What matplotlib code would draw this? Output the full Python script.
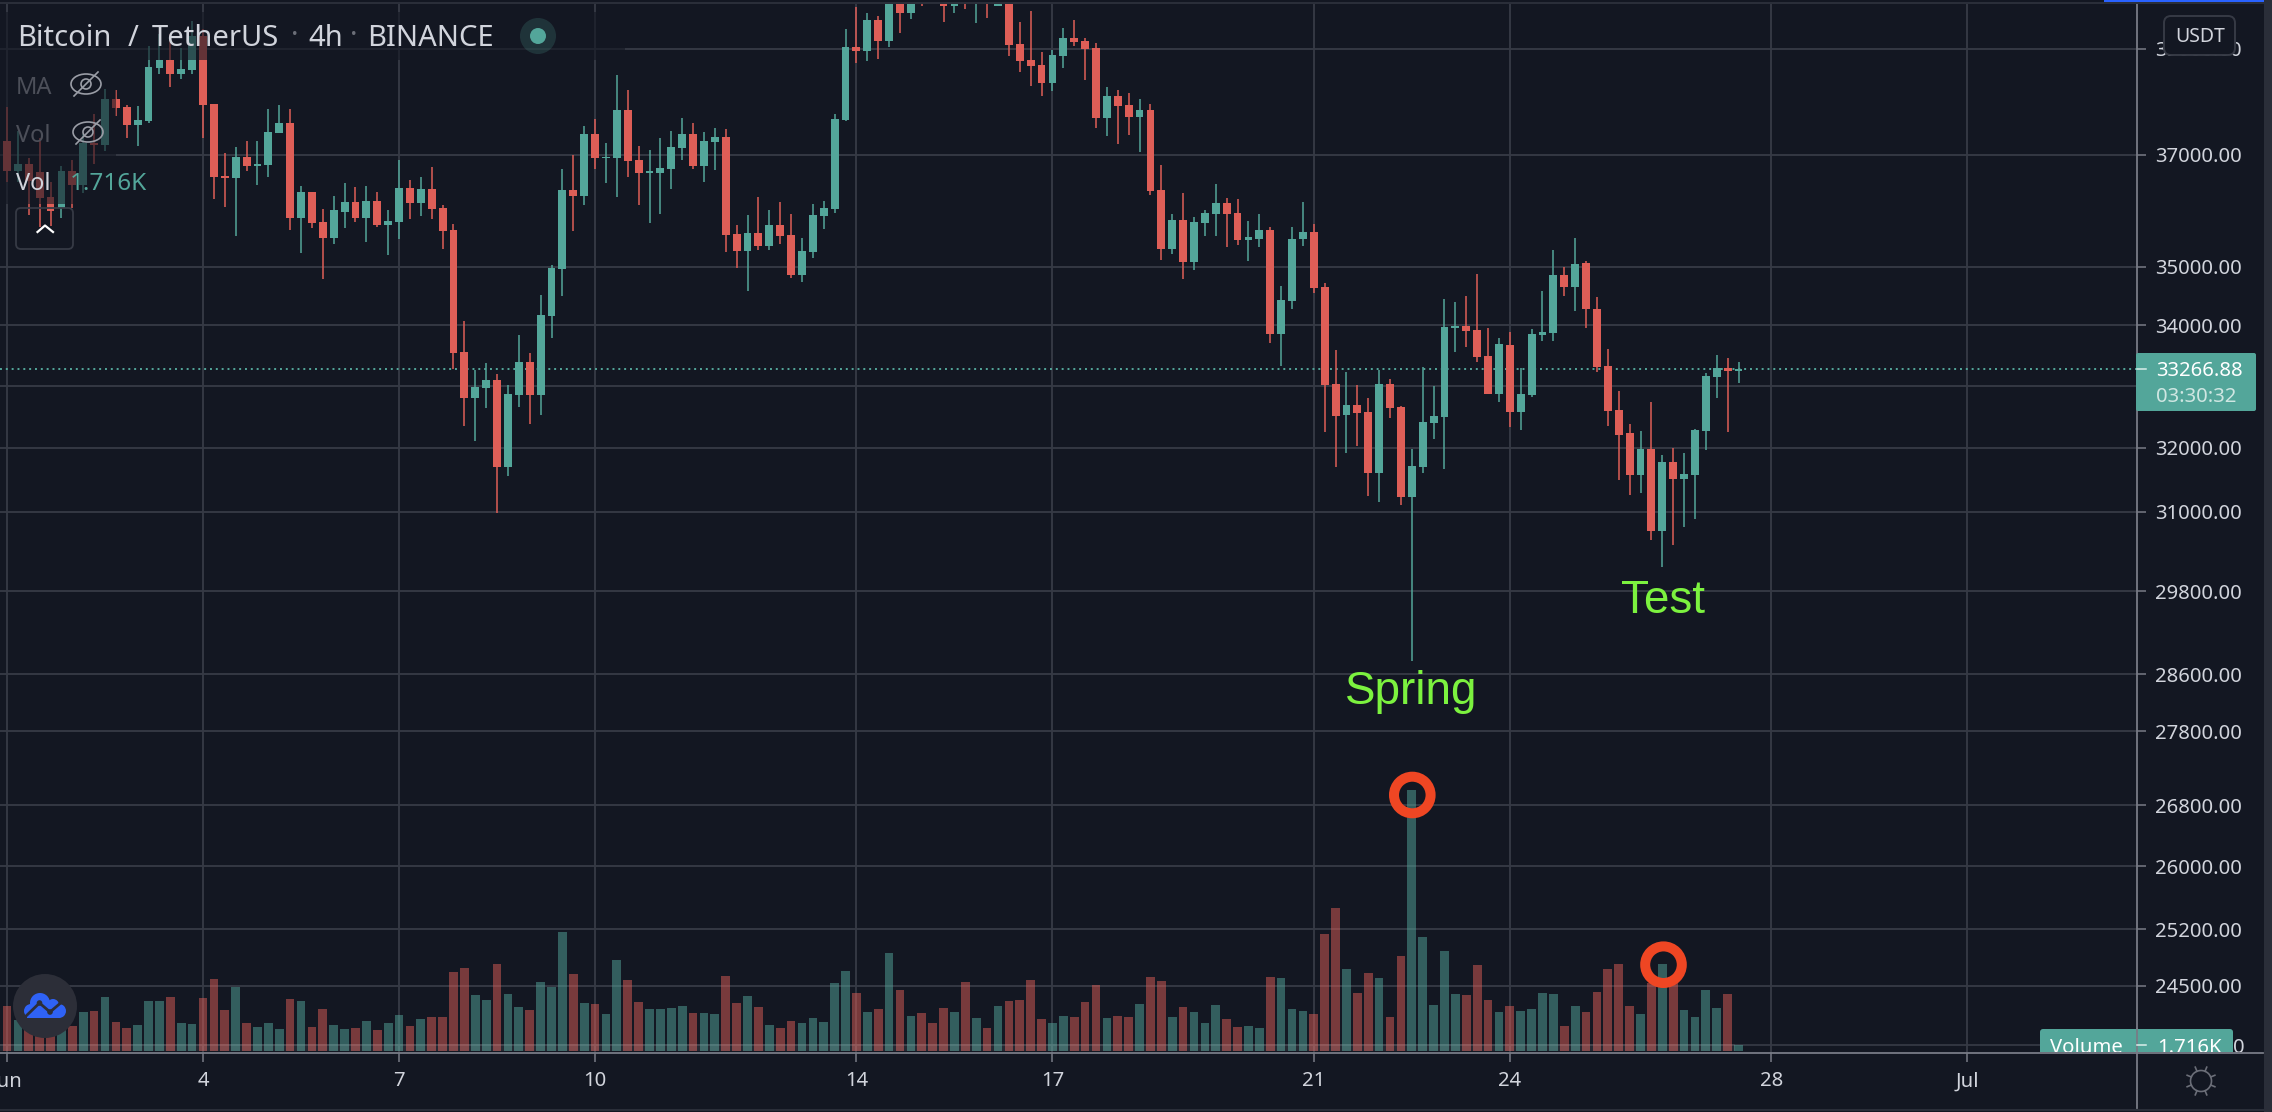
import numpy as np
import matplotlib
matplotlib.use("Agg")
import matplotlib.pyplot as plt
from matplotlib.patches import Rectangle, Circle, FancyBboxPatch, Ellipse
from matplotlib.ticker import FixedLocator, FixedFormatter, NullLocator
from matplotlib.transforms import Bbox

opens = [37256,36700,36838,36687,36238,36034,36706,36456,37212,37193,38046,37891,37562,37633,38636,38789,38510,38596,39247,37949,
36618,36580,36964,36806,36819,37409,37594,35860,36325,35789,35509,35966,36146,35860,36158,35740,35789,36400,36133,36381,
36040,35648,33555,32797,32959,33095,31695,32847,33390,32847,34157,34964,36363,36257,37389,36945,36945,37840,36907,36675,
36675,36744,37129,37389,36800,37243,37332,35582,35279,35594,35370,35740,35563,34859,35260,35899,36022,37646,39040,38960,
39564,39155,40095,39700,40250,40250,40100,39840,40250,39970,40200,39840,40200,39095,38790,38690,38345,38860,39215,39155,
39020,37684,38098,37930,37704,37840,36363,35315,35825,35086,35770,35930,36127,35948,35472,35496,35648,33855,34415,35490,
35611,34650,33027,32523,32685,32568,31597,33027,32652,31220,31695,32390,32490,33960,33988,33918,33487,32858,33670,32568,
32847,33838,33873,34859,34650,35068,34275,33321,32601,32230,31565,31977,30703,31770,31505,31565,32263,33140,33287,33248]
highs = [37898,37447,36939,37319,36500,36800,36907,37383,37768,38235,38209,37930,37910,39047,39281,39281,39014,39551,39382,37949,
37033,37141,37256,37256,37846,37923,37846,36437,36325,36016,36251,36487,36412,36431,36325,36003,36907,36543,36593,36775,
36096,35752,34070,33253,33367,33186,33010,33832,33538,34509,35043,36744,37002,37537,37665,37224,38497,38209,37167,37090,
37313,37447,37684,37594,37428,37498,37479,35740,35911,36233,36003,36146,35935,35509,36115,36164,37755,39388,39820,39700,
39645,40300,40400,40300,40400,40500,40400,40350,40450,40300,40400,40400,40380,39525,39740,38935,38980,39400,39565,39215,
39115,38267,38215,38157,38046,37949,36813,35930,36307,35875,36003,36468,36220,36201,35807,35930,35697,34669,35697,36146,
35752,34720,33584,33219,33010,32796,33253,33106,32670,31977,33304,32992,34444,34396,34497,34877,33954,33786,33890,33287,
33937,34585,35297,34997,35503,35104,34480,33601,32910,32375,32263,32730,31880,31993,31912,32296,33203,33504,33452,33384]
lows = [36500,36500,35911,35697,35727,35868,36034,36313,36844,37065,37723,37319,37173,37600,38517,38267,38424,38517,37319,36200,
36065,35545,36700,36456,36599,37409,35648,35242,35684,34794,35400,35684,35789,35436,35703,35212,35490,35843,35893,35843,
35315,33281,32346,32104,32635,30977,31554,32652,32379,32523,33792,34503,35630,36096,36744,36493,36238,36599,36096,35770,
35935,36381,36907,36744,36512,36725,35260,34985,34586,35297,35297,35400,34810,34740,35158,35666,35954,37633,38730,38770,
38810,39040,39308,39585,39840,40050,39525,39700,39770,39505,39605,39830,38860,38557,38287,38098,38195,38635,39055,38405,
37498,37351,37205,37370,37060,36270,35122,35224,34787,34947,35539,35539,35345,35381,35104,35345,33705,33320,34275,35363,
34550,32246,31695,31913,32026,31237,31147,32473,31100,28782,31597,32136,31662,33550,33636,33384,32858,32730,32330,32280,
32813,33733,33733,34497,34245,33954,33219,32346,31489,31252,31284,30567,30157,30489,30761,30887,31960,32797,32246,33039]
closes = [36700,36838,36531,36220,35990,36706,36456,37224,37193,38046,37878,37556,37652,38649,38789,38517,38616,39247,37936,36599,
36587,36964,36800,36832,37428,37594,35860,36325,35770,35509,36003,36146,35860,36158,35740,35807,36400,36133,36381,36022,
35630,33538,32797,32976,33095,31695,32864,33390,32847,34176,34984,36363,36257,37389,36945,36964,37840,36894,36675,36700,
36762,37148,37389,36800,37262,37332,35563,35279,35594,35370,35740,35545,34859,35279,35917,36040,37665,39040,38960,39564,
39155,40095,39700,40130,40025,40100,39840,40150,39970,40100,40000,40200,39075,38770,38670,38345,38880,39215,39135,39000,
37684,38098,37910,37704,37840,36344,35315,35825,35086,35789,35948,36127,35930,35472,35521,35648,33855,34427,35496,35611,
34630,33010,32506,32685,32551,31597,33027,32635,31220,31705,32406,32506,33971,33988,33900,33470,32858,33688,32568,32858,
33855,33890,34859,34650,35050,34275,33304,32585,32197,31565,31977,30703,31770,31505,31581,32280,33157,33287,33242,33266.88]
volumes = [12.9,8.9,6.0,6.5,5.5,7.0,7.1,11.1,11.4,15.4,8.3,6.6,7.4,14.3,14.3,15.4,8.0,7.7,15.1,20.6,
11.7,18.3,8.0,6.9,8.0,6.3,14.9,14.3,6.9,12.0,7.4,6.3,6.6,8.6,6.0,8.0,10.3,7.1,9.1,9.7,
9.7,22.6,23.7,16.0,14.6,24.9,16.3,12.6,11.7,19.7,18.3,34.0,22.0,13.7,13.4,10.6,26.0,20.3,14.0,12.0,
12.0,12.3,12.9,10.9,10.9,10.6,21.4,13.7,15.7,12.6,7.4,6.6,8.6,8.0,9.4,8.3,19.4,22.9,16.6,11.1,
12.0,28.0,17.4,10.0,10.9,8.0,12.3,11.1,19.7,9.4,6.6,12.9,14.3,14.6,20.3,9.1,8.0,10.0,9.7,14.0,
18.9,9.4,10.0,9.7,13.4,21.1,20.0,9.7,12.6,11.1,8.0,13.1,9.1,6.9,7.1,6.6,21.1,20.9,12.0,11.4,
10.6,33.4,40.9,23.4,16.6,22.3,20.9,9.7,27.1,74.6,32.6,13.1,28.6,16.3,16.0,24.6,14.6,11.1,12.9,11.4,
12.0,16.6,16.3,7.1,12.9,11.1,16.9,23.4,24.9,12.9,10.6,19.3,24.9,19.3,11.7,9.7,17.4,12.3,16.3,1.716]

price_ticks = [39000,37000,35000,34000,33000,32000,31000,29800,28600,27800,26800,26000,25200,24500]
price_labels = ["39000.00","37000.00","35000.00","34000.00","","32000.00","31000.00","29800.00","28600.00",
                "27800.00","26800.00","26000.00","25200.00","24500.00"]
time_ticks = [0,18,36,54,78,96,120,138,162,180]
time_labels = ["Jun","4","7","10","14","17","21","24","28","Jul"]
last_price = 33266.88
last_volume = 1.716

BG="#131722"; GRID="#363a45"; AXC="#787b86"; UP="#53a69a"; DOWN="#de5e57"; TXT="#d1d4dc"
W,H=2272,1112
UI="Noto Sans"
LS=14.6

opens,highs,lows,closes,volumes=map(np.array,(opens,highs,lows,closes,volumes))
xs=np.arange(len(opens))
colors=np.where(closes>=opens,UP,DOWN)

fig=plt.figure(figsize=(W/100,H/100),dpi=100,facecolor=BG)
AX_R,AX_T,AX_B=2136.7,4.0,1052.7
rect=[0,1-AX_B/H,AX_R/W,(AX_B-AX_T)/H]
BAR=10.89; X0=7.0
xlim=((0-X0)/BAR,(AX_R-X0)/BAR)

ax=fig.add_axes(rect,facecolor=BG)
ax.set_yscale("log")
ax.set_ylim(35000*np.exp((267-AX_B)/2015.6),35000*np.exp((267-AX_T)/2015.6))
ax.set_xlim(*xlim)
ax.yaxis.tick_right()
ax.yaxis.set_major_locator(FixedLocator(price_ticks))
ax.yaxis.set_major_formatter(FixedFormatter(price_labels))
ax.yaxis.set_minor_locator(NullLocator())
ax.set_xticks(time_ticks,time_labels)
ax.set_axisbelow(True)
ax.grid(True,color=GRID,lw=1.35)
ax.tick_params(axis="both",length=6.5,width=1.1,color=AXC,labelcolor=TXT,labelsize=LS,pad=7)
for lab in ax.get_xticklabels()+ax.get_yticklabels():
    lab.set_fontfamily(UI)
for s in ("top","left"):
    ax.spines[s].set_visible(False)
for s in ("right","bottom"):
    ax.spines[s].set_color(AXC); ax.spines[s].set_linewidth(1.3)

ax.vlines(xs,lows,highs,colors=colors,lw=1.1,zorder=3)
ax.bar(xs,np.abs(closes-opens),bottom=np.minimum(opens,closes),width=0.72,color=colors,linewidth=0,zorder=4)
ax.axhline(last_price,color=UP,lw=1.4,linestyle=(0,(1,2)),zorder=2.5)

ax_v=fig.add_axes(rect,facecolor="none")
ax_v.set_xlim(*xlim)
ax_v.set_ylim(-(AX_B-1051)/3.5,(1051-AX_T)/3.5)
ax_v.axis("off")
ax_v.bar(xs,volumes,width=0.8,color=colors,alpha=0.5,linewidth=0)
ax_v.axhline(last_volume,color=GRID,lw=1.25,zorder=0)

ov=fig.add_axes([0,0,1,1],facecolor="none",zorder=5)
ov.set_xlim(0,W); ov.set_ylim(H,0); ov.axis("off")

# chrome
ov.add_patch(Rectangle((0,2),2264,2,color="#2a2e39",lw=0))
ov.add_patch(Rectangle((2104,0),160,2,color="#2962ff",lw=0))
ov.add_patch(Rectangle((2264,0),8,H,color="#2a2e39",lw=0))
ov.add_patch(Rectangle((0,1108.5),2264,2,color="#2a2e39",lw=0))
ov.plot([AX_R,AX_R],[AX_B,1108],color=AXC,lw=1.3)
ov.plot([AX_R,2263],[AX_B,AX_B],color=AXC,lw=1.3)
ov.add_patch(Rectangle((0,1044),1735,7,color="white",alpha=0.08,lw=0))

# legend dimming
ov.add_patch(Rectangle((0,12),625,48,color=BG,alpha=0.6,lw=0))
ov.add_patch(Rectangle((0,60),116,144,color=BG,alpha=0.6,lw=0))

def t(x,y,s,**k):
    k.setdefault("family",UI); k.setdefault("va","center"); k.setdefault("color",TXT)
    return ov.text(x,y,s,**k)

t(16.8,38.5,"Bitcoin",fontsize=21)
t(128,38.5,"/",fontsize=21)
t(152,38.5,"TetherUS",fontsize=21)
t(295,36,"·",fontsize=20,color="#6b6e78",ha="center")
t(308,38.5,"4h",fontsize=21)
t(353.6,36,"·",fontsize=20,color="#6b6e78",ha="center")
t(367,38.5,"BINANCE",fontsize=21)
ov.add_patch(Circle((538,36),18,color=UP,alpha=0.2,lw=0))
ov.add_patch(Circle((538,36),8,color=UP,lw=0))
t(16,87.5,"MA",fontsize=17,color="#4c4f59")
t(16,135.5,"Vol",fontsize=17,color="#4c4f59")
t(16,183.5,"Vol",fontsize=17,color=TXT)
t(70,183.5,"1.716K",fontsize=17.5,color=UP)
for cx,cy in ((86,84),(88,132)):
    ov.add_patch(Ellipse((cx,cy),30,20,fill=False,ec="#9a9da6",lw=1.2))
    ov.add_patch(Circle((cx,cy),5,fill=False,ec="#9a9da6",lw=1.2))
    ov.plot([cx-12,cx+12],[cy+12,cy-12],color="#9a9da6",lw=1.2)
ov.add_patch(FancyBboxPatch((20,212),49,33,boxstyle="round,pad=4,rounding_size=5",fc="none",ec=GRID,lw=1.3))
ov.plot([37.5,45,53],[232,225.5,232],color="white",lw=1.6)

# annotations
ov.text(1411,692,"Spring",family="Liberation Sans",fontsize=33,color="#7cf23f",ha="center",va="center")
ov.text(1663,601,"Test",family="Liberation Sans",fontsize=33,color="#7cf23f",ha="center",va="center")
for cx,cy in ((1412.3,795),(1663.5,964.7)):
    ov.add_patch(Circle((cx,cy),18.3,fill=False,ec="#ef4623",lw=7.2))

# price label
ov.add_patch(FancyBboxPatch((2136,353),120,58,boxstyle="round,pad=0,rounding_size=2",fc=UP,ec="none",lw=0))
t(2156,371,"33266.88",fontsize=LS,color="white")
t(2156,397,"03:30:32",fontsize=LS,color="#cfe6e2")
ov.plot([2137,2146],[369,369],color="#dbeeea",lw=1.1)

# volume label
clip=Bbox([[2030,H-1052],[2245,H-1025]])
vb=FancyBboxPatch((2040,1029),193,30,boxstyle="round,pad=0,rounding_size=3",fc=UP,ec="none",lw=0)
ov.add_patch(vb); vb.set_clip_box(clip)
for x,s,c in ((2050,"Volume","white"),(2157,"1.716K","white"),(2233.5,"0",TXT)):
    tx=t(x,1048,s,fontsize=LS,color=c)
    tx.set_clip_on(True); tx.set_clip_box(clip)
ov.plot([AX_R,AX_R],[1029,1052],color=AXC,lw=1.3)
ov.plot([2137,2146],[1045,1045],color="#dbeeea",lw=1.1)

# currency button
ov.add_patch(FancyBboxPatch((2168,20),63,31,boxstyle="round,pad=4,rounding_size=7",fc=BG,ec=GRID,lw=1.4))
t(2200,37,"USDT",fontsize=14,ha="center")

# logo
ov.add_patch(Circle((45,1006),32,color="#2c2e38",lw=0))
for cx,cy,r in ((31,1011,7),(40,1003,10),(53,1005,6),(59,1011,7)):
    ov.add_patch(Circle((cx,cy),r,color="#2f62f5",lw=0))
ov.add_patch(Rectangle((27,1008),33,10,color="#2f62f5",lw=0))
ov.plot([25,39.5,50,63],[1017,1003,1012,1001],color="#2c2e38",lw=2)
ov.add_patch(Circle((39.5,1003),2.8,color="#2c2e38",lw=0))
ov.add_patch(Circle((50,1012),2.8,color="#2c2e38",lw=0))

# settings icon
ov.add_patch(Circle((2201,1081),10.5,fill=False,ec="#6b6e78",lw=1.2))
for a in np.arange(0,360,45)+22.5:
    r=np.radians(a)
    ov.plot([2201+10.5*np.cos(r),2201+15*np.cos(r)],[1081+10.5*np.sin(r),1081+15*np.sin(r)],color="#6b6e78",lw=1.2)

fig.savefig("out.png",dpi=100,facecolor=BG)
